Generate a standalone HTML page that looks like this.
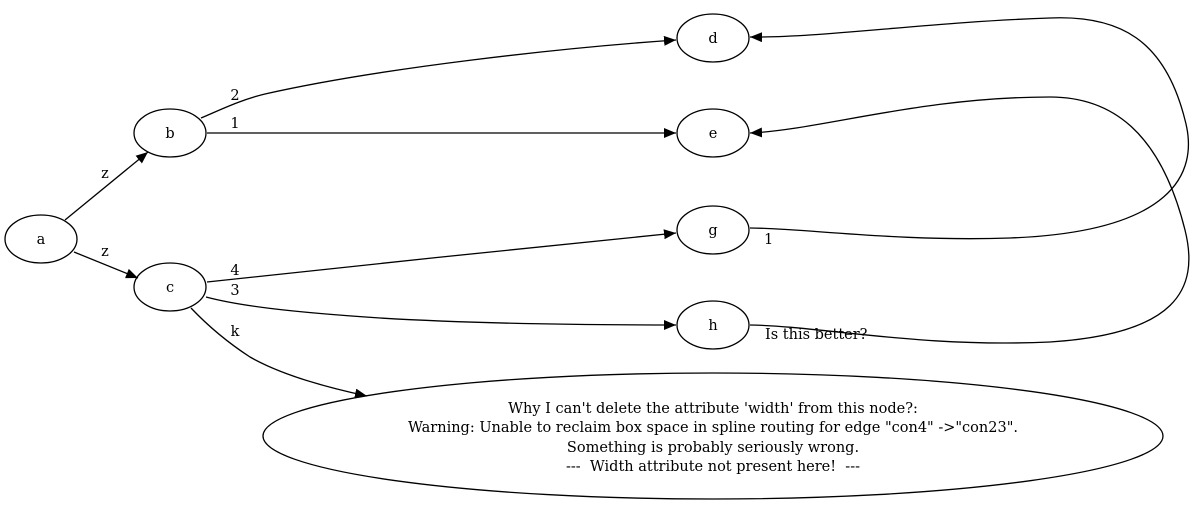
<!DOCTYPE html>
<html><head><meta charset="utf-8"><style>
html,body{margin:0;padding:0;background:#fff;}
svg{display:block;}
text{font-family:"DejaVu Serif",serif;font-size:14.5px;fill:#000;}
</style></head><body>
<svg width="1193" height="506" viewBox="0 0 1193 506" xmlns="http://www.w3.org/2000/svg">
<defs><marker id="ar" viewBox="0 0 12 10" refX="12" refY="5" markerWidth="12" markerHeight="10" markerUnits="userSpaceOnUse" orient="auto"><path d="M0,0 L12,5 L0,10 z" fill="#000"/></marker></defs>
<g fill="none" stroke="#000" stroke-width="1.3">
<ellipse cx="41" cy="239" rx="36" ry="24"/>
<ellipse cx="170" cy="133" rx="36" ry="24"/>
<ellipse cx="170" cy="287" rx="36" ry="24"/>
<ellipse cx="713" cy="38" rx="36" ry="24"/>
<ellipse cx="713" cy="133" rx="36" ry="24"/>
<ellipse cx="713" cy="230" rx="36" ry="24"/>
<ellipse cx="713" cy="325" rx="36" ry="24"/>
<ellipse cx="713" cy="436" rx="450" ry="63"/>
<path d="M65,220 L148,152" marker-end="url(#ar)"/>
<path d="M74,252 L138,278" marker-end="url(#ar)"/>
<path d="M201,118 C220,110 240,100 265,94 C380,68 560,48 676,40" marker-end="url(#ar)"/>
<path d="M207,133 L676,133" marker-end="url(#ar)"/>
<path d="M207,282 C330,268 560,245 676,233" marker-end="url(#ar)"/>
<path d="M206,297 C240,306 290,312 380,318 C480,324 600,325 676,325" marker-end="url(#ar)"/>
<path d="M191,308 C210,328 230,344 250,357 C280,374 320,386 367,396" marker-end="url(#ar)"/>
<path d="M750,228 C800,228 900,242 1010,238 C1170,232 1200,175 1185,120 C1165,40 1120,15 1050,18 C930,22 820,38 750,37" marker-end="url(#ar)"/>
<path d="M750,325 C820,326 920,348 1050,342 C1175,334 1200,290 1185,230 C1160,130 1110,97 1050,97 C920,97 820,130 750,133" marker-end="url(#ar)"/>
</g>
<g text-anchor="middle">
<text x="41" y="244">a</text>
<text x="170" y="138">b</text>
<text x="170" y="292">c</text>
<text x="713" y="43">d</text>
<text x="713" y="138">e</text>
<text x="713" y="235">g</text>
<text x="713" y="330">h</text>
<text x="105" y="178">z</text>
<text x="105" y="256">z</text>
<text x="235" y="100">2</text>
<text x="235" y="128">1</text>
<text x="235" y="275">4</text>
<text x="235" y="295">3</text>
<text x="235" y="336">k</text>
<text x="713" y="413">Why I can't delete the attribute 'width' from this node?:</text>
<text x="713" y="432">Warning: Unable to reclaim box space in spline routing for edge "con4" -&gt;"con23".</text>
<text x="713" y="452">Something is probably seriously wrong.</text>
<text x="713" y="471" xml:space="preserve">---  Width attribute not present here!  ---</text>
</g>
<text x="764" y="244">1</text>
<text x="765" y="339">Is this better?</text>
</svg>
</body></html>
